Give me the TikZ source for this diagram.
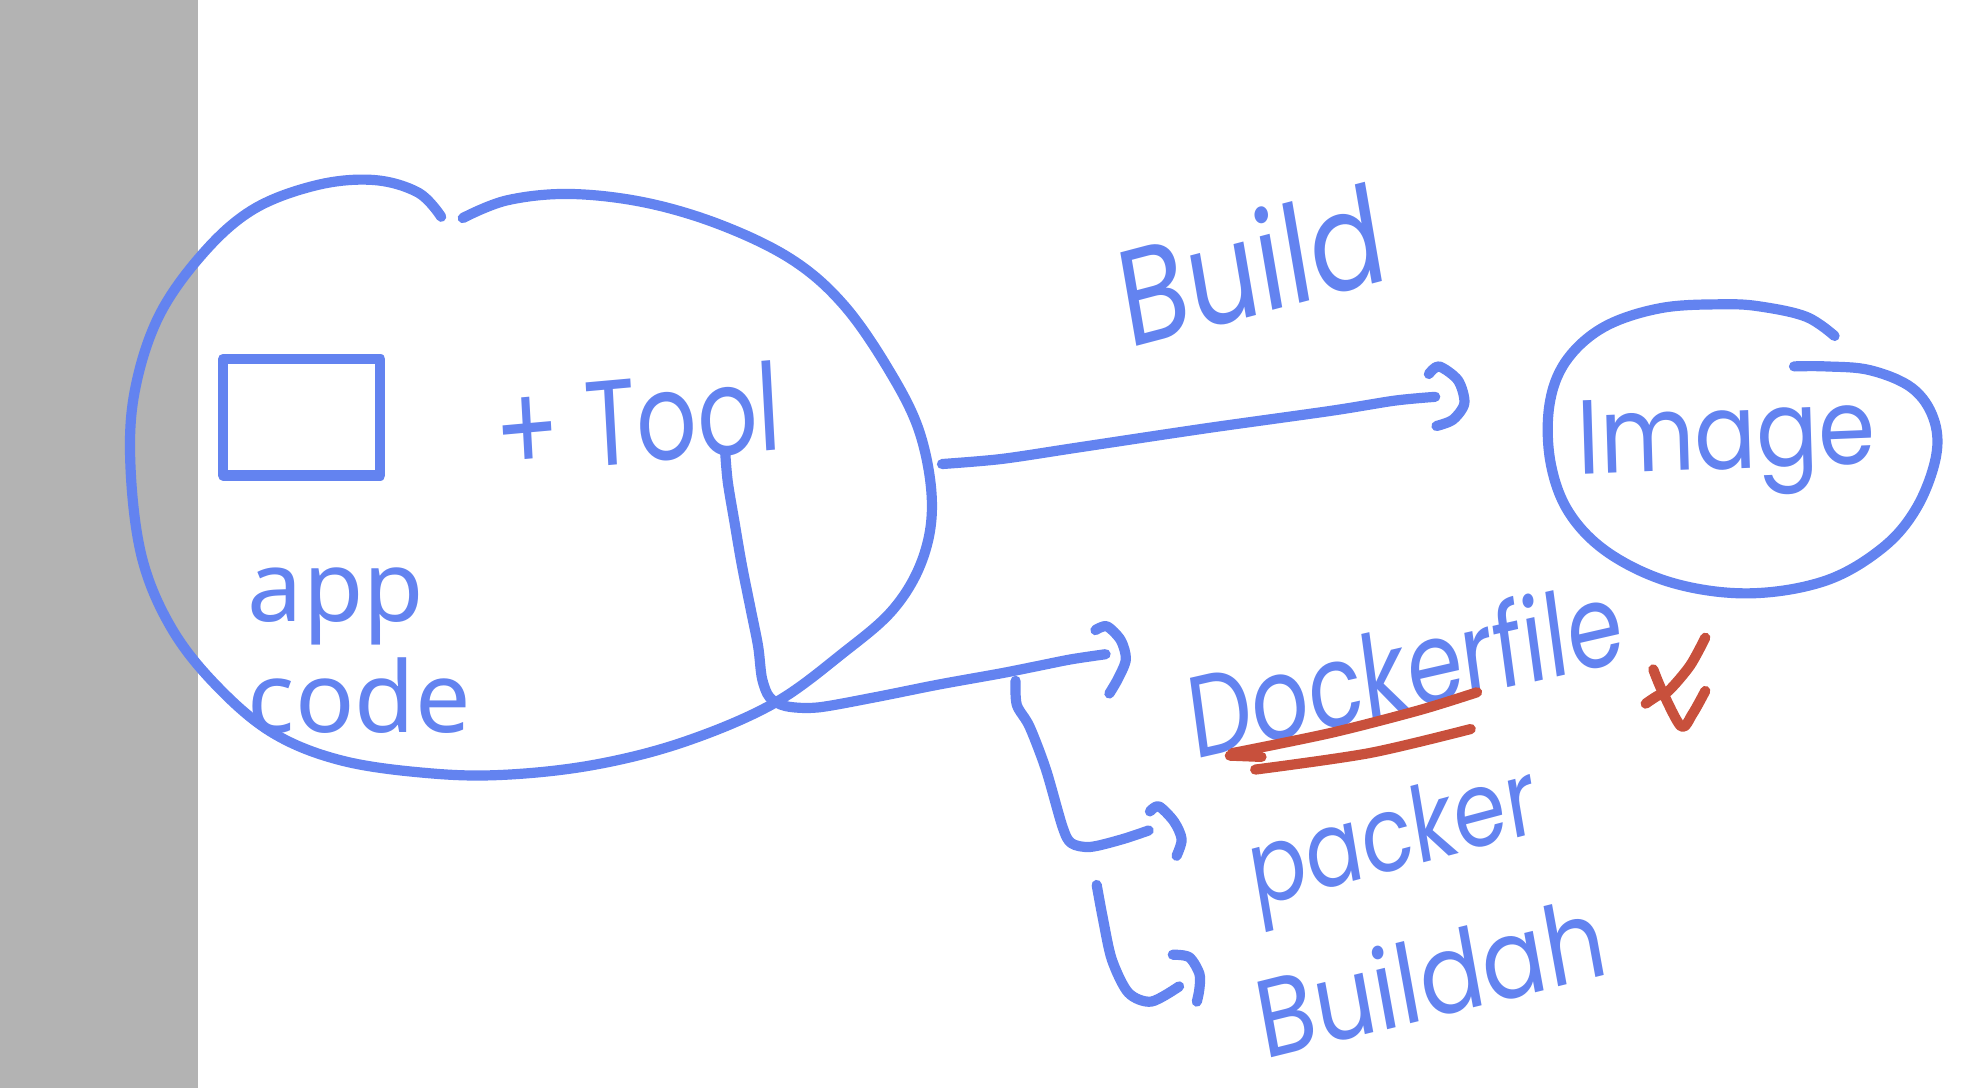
\documentclass[tikz,border=0pt]{standalone}
\usepackage{fontspec}
\newfontfamily\handfont{Poppins}
\newfontfamily\typedfont{Noto Sans}
\definecolor{pen}{RGB}{99,131,240}
\definecolor{redpen}{RGB}{200,80,60}
\definecolor{sidebar}{RGB}{179,179,179}

\begin{document}
\begin{tikzpicture}[x=0.01268cm, y=-0.01268cm,
  ink/.style={pen, line width=2.9pt, line cap=round, line join=round},
  redink/.style={redpen, line width=2.9pt, line cap=round, line join=round},
  hand/.style={pen, inner sep=0pt, font=\handfont\fontsize{30}{30}\selectfont},
  typed/.style={pen, inner sep=0pt, font=\typedfont\fontsize{28}{32}\selectfont, align=left}]

\useasboundingbox (0,0) rectangle (1568,858);
\fill[sidebar] (0,0) rectangle (156,858);

% app code + tool bubble
\draw[ink] plot[smooth, tension=0.6] coordinates {(348,171) (330,152) (295,142) (250,146) (200,165) (160,200)
  (125,250) (106,310) (103,370) (112,440) (135,495) (170,540) (215,578) (270,600) (340,610) (400,611)
  (470,603) (540,585) (610,555) (665,515) (705,480) (728,440) (735,395) (725,340) (700,290) (665,240)
  (625,205) (570,178) (510,160) (450,153) (400,158) (365,172)};

\draw[ink] (176,283) rectangle (300,375);
\node[typed, anchor=base west] (app) at (195,490) {app};
\node[typed, anchor=base west] (code) at (195,578) {code};

\node[hand, xscale=0.9, yscale=1.15, rotate=4] (tool) at (503,330) {+ Tool};

% image bubble
\draw[ink] plot[smooth, tension=0.6] coordinates {(1447,265) (1425,250) (1390,242) (1360,240) (1310,243)
  (1265,258) (1235,285) (1222,320) (1223,365) (1238,405) (1270,437) (1320,460) (1380,468) (1440,458)
  (1485,432) (1512,400) (1527,360) (1525,330) (1508,306) (1475,292) (1440,289) (1415,289)};
\node[hand, xscale=0.87, rotate=2] (image) at (1362,352) {Image};

% labels
\node[hand, xscale=1.05, yscale=1.3, rotate=12] (build) at (987,208) {Build};
\node[hand, xscale=0.85, yscale=1.1, rotate=10] (docker) at (1108,526) {Dockerfile};
\node[hand, xscale=0.8, rotate=12] (packer) at (1100,666) {packer};
\node[hand, xscale=0.9, yscale=1.05, rotate=12] (buildah) at (1128,770) {Buildah};

% crossed out
\draw[redink] (970,596) -- (995,597);
\draw[redink] plot[smooth] coordinates {(972,594) (1050,578) (1120,560) (1165,546)};
\draw[redink] plot[smooth] coordinates {(990,607) (1080,594) (1160,575)};
\draw[redink] plot[smooth] coordinates {(1345,503) (1333,525) (1316,545) (1307,549) (1298,555)};
\draw[redink] plot[smooth] coordinates {(1304,528) (1311,545) (1326,573) (1335,563) (1345,545)};

% arrows
\coordinate (bubbleR) at (743,366);
\coordinate (buildEnd) at (1132,313);
\coordinate (toolTop) at (572,357);
\coordinate (dockEnd) at (872,516);
\coordinate (fork) at (801,537);
\coordinate (packEnd) at (906,655);
\coordinate (fork2) at (865,698);
\coordinate (buildahEnd) at (930,778);

\draw[ink] plot[smooth] coordinates {(bubbleR) (790,362) (850,353) (950,338) (1050,324) (1100,316) (buildEnd)};
\draw[ink] plot[smooth] coordinates {(1127,295) (1135,289) (1150,300) (1155,318) (1146,331) (1133,336)};

\draw[ink] plot[smooth] coordinates {(toolTop) (574,380) (579,410) (585,445) (592,480) (598,510) (601,535)
  (607,550) (620,557) (645,558) (690,550) (740,540) (790,531) (820,525) (845,520) (dockEnd)};
\draw[ink] plot[smooth] coordinates {(864,497) (873,494) (884,505) (888,520) (882,535) (875,547)};

\draw[ink] plot[smooth] coordinates {(fork) (802,556) (812,573) (825,607) (838,652) (845,665) (860,668) (885,662) (packEnd)};
\draw[ink] plot[smooth] coordinates {(907,640) (914,636) (926,648) (932,662) (928,675)};

\draw[ink] plot[smooth] coordinates {(fork2) (870,725) (877,757) (890,783) (908,790) (buildahEnd)};
\draw[ink] plot[smooth] coordinates {(925,753) (938,755) (946,768) (946,780) (944,790)};

\end{tikzpicture}
\end{document}
